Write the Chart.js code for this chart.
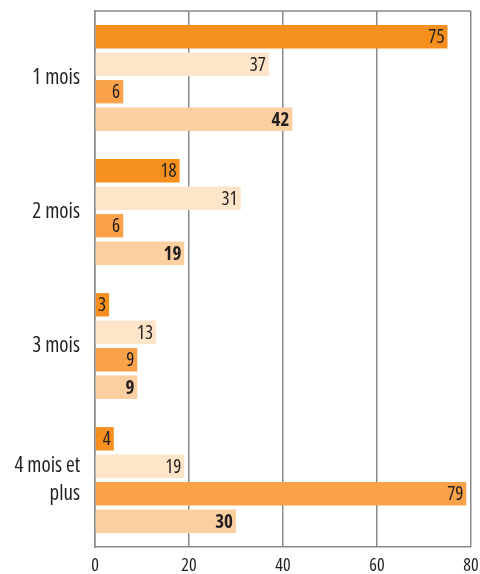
<!DOCTYPE html>
<html>
<head>
<meta charset="utf-8">
<script src="https://cdn.jsdelivr.net/npm/chart.js@4"></script>
<style>
  html, body { margin: 0; padding: 0; background: #fff; }
  #wrap { width: 480px; height: 574px; }
</style>
</head>
<body>
<div id="wrap"><canvas id="chart"></canvas></div>
<script>
const categories = ["1 mois", "2 mois", "3 mois", ["4 mois et", "plus"]];
const serie1 = [75, 18, 3, 4];
const serie2 = [37, 31, 13, 19];
const serie3 = [6, 6, 9, 79];
const serie4 = [42, 19, 9, 30];
const xTicks = [0, 20, 40, 60, 80];

const FONT = "'Open Sans', sans-serif";

// value labels at the end of each bar, last series in bold
const barLabels = {
    id: "barLabels",
    afterDatasetsDraw(chart) {
        const ctx = chart.ctx;
        ctx.save();
        ctx.fillStyle = "#231f20";
        ctx.textAlign = "right";
        ctx.textBaseline = "middle";
        chart.data.datasets.forEach(function (ds, i) {
            const meta = chart.getDatasetMeta(i);
            ctx.font = (i === 3 ? "bold " : "") + "condensed 19px " + FONT;
            meta.data.forEach(function (bar, j) {
                ctx.fillText(ds.data[j], bar.x - 3, bar.y + 1);
            });
        });
        ctx.restore();
    }
};

// top frame line
const topLine = {
    id: "topLine",
    beforeDatasetsDraw(chart) {
        const a = chart.chartArea;
        const ctx = chart.ctx;
        ctx.save();
        ctx.strokeStyle = "#8a8a8a";
        ctx.lineWidth = 1.5;
        ctx.beginPath();
        ctx.moveTo(a.left, a.top);
        ctx.lineTo(a.right, a.top);
        ctx.stroke();
        ctx.restore();
    }
};

new Chart(document.getElementById("chart"), {
    type: "bar",
    data: {
        labels: categories,
        datasets: [
            { data: serie1, backgroundColor: "#f5901f" },
            { data: serie2, backgroundColor: "#fee5ca" },
            { data: serie3, backgroundColor: "#f9a24a" },
            { data: serie4, backgroundColor: "#fbcfa0" }
        ]
    },
    options: {
        indexAxis: "y",
        responsive: true,
        maintainAspectRatio: false,
        animation: false,
        categoryPercentage: 0.82,
        barPercentage: 0.85,
        layout: { padding: { top: 11, right: 9, left: 0, bottom: 0 } },
        plugins: {
            legend: { display: false },
            tooltip: { enabled: false }
        },
        scales: {
            x: {
                min: 0,
                max: 80,
                afterBuildTicks: function (scale) {
                    scale.ticks = xTicks.map(v => ({ value: v }));
                },
                afterFit: function (scale) {
                    scale.height = 27;
                    scale.paddingLeft = 0;
                    scale.paddingRight = 0;
                },
                grid: {
                    color: "#8a8a8a",
                    lineWidth: 1.5,
                    drawTicks: false
                },
                border: { color: "#8a8a8a", width: 1.5 },
                ticks: {
                    color: "#231f20",
                    padding: 8,
                    font: { size: 18, family: FONT, weight: "condensed" }
                }
            },
            y: {
                afterFit: function (scale) {
                    scale.width = 95;
                    scale.paddingTop = 0;
                    scale.paddingBottom = 0;
                },
                grid: { display: false, drawTicks: false },
                border: { color: "#8a8a8a", width: 1.5 },
                ticks: {
                    color: "#231f20",
                    padding: 15,
                    font: { size: 21, family: FONT, weight: "condensed", lineHeight: 1.35 }
                }
            }
        }
    },
    plugins: [barLabels, topLine]
});
</script>
</body>
</html>
